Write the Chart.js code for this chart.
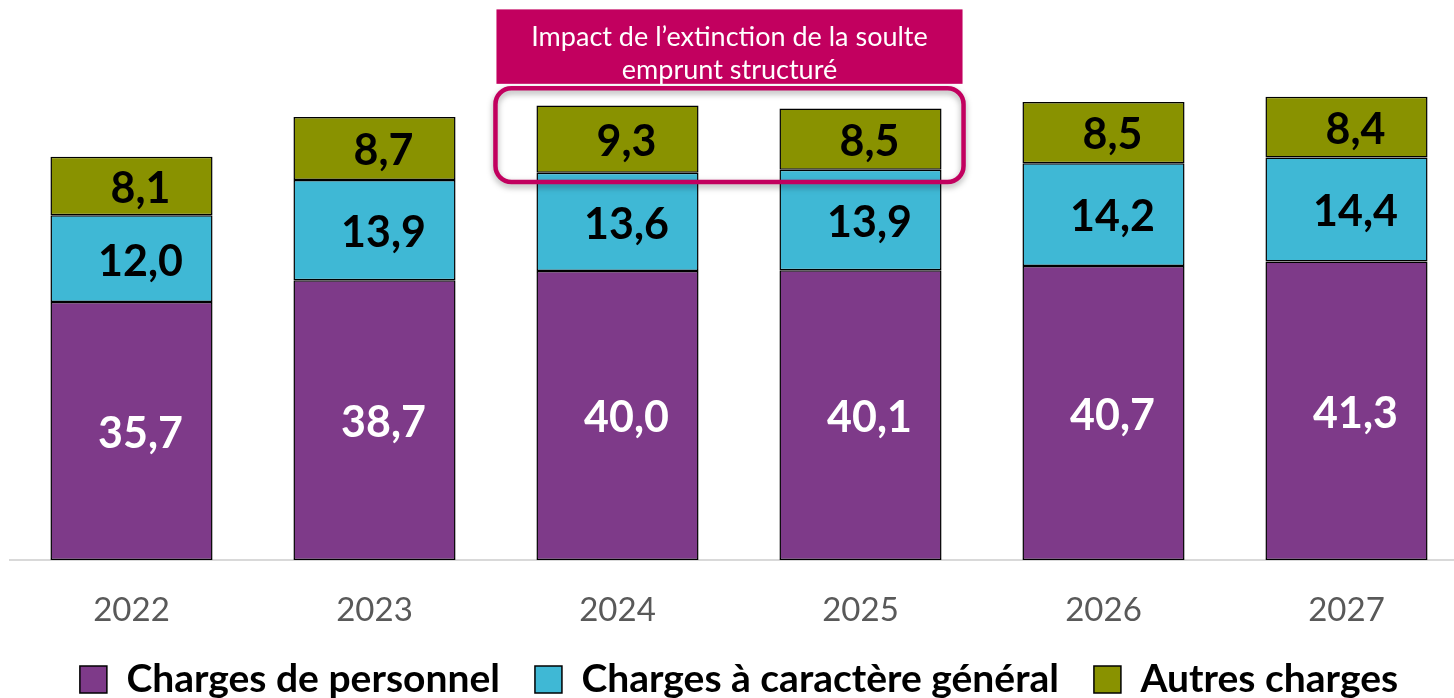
<!DOCTYPE html>
<html>
<head>
<meta charset="utf-8">
<script src="https://cdn.jsdelivr.net/npm/chart.js@4"></script>
<style>
  html, body { margin: 0; padding: 0; background: #fff; overflow: hidden; }
  #wrap { position: relative; width: 1468px; height: 698px; }
</style>
</head>
<body>
<div id="wrap"><canvas id="chart"></canvas></div>
<script>
// Data
const years = ['2022', '2023', '2024', '2025', '2026', '2027']
const personnel = [35.7, 38.7, 40.0, 40.1, 40.7, 41.3]
const generales = [12.0, 13.9, 13.6, 13.9, 14.2, 14.4]
const autres = [8.1, 8.7, 9.3, 8.5, 8.5, 8.4]
const seriesNames = ['Charges de personnel', 'Charges à caractère général', 'Autres charges']
const noteLines = ['Impact de l\u2019extinction de la soulte', 'emprunt structuré']
const noteYears = [2, 3] // 2024 and 2025

const FONT = 'Lato, "Open Sans", sans-serif'
const MAGENTA = '#c2005f'

const fmt = v => v.toFixed(1).replace('.', ',')

// Value labels inside the bar segments
const labelPlugin = {
  id: 'segLabels',
  afterDatasetsDraw(chart) {
    const ctx = chart.ctx
    ctx.save()
    ctx.font = 'bold 43px ' + FONT
    ctx.textAlign = 'center'
    ctx.textBaseline = 'middle'
    chart.data.datasets.forEach((ds, i) => {
      const meta = chart.getDatasetMeta(i)
      meta.data.forEach((bar, j) => {
        const { x, y, base } = bar.getProps(['x', 'y', 'base'], true)
        ctx.fillStyle = i === 0 ? '#ffffff' : '#000000'
        ctx.fillText(fmt(ds.data[j]), x + 9, (y + base) / 2 + 3)
      })
    })
    ctx.restore()
  }
}

// Callout box + rounded frame around 2024/2025 tops
const notePlugin = {
  id: 'note',
  afterDraw(chart) {
    const ctx = chart.ctx
    const top = chart.getDatasetMeta(2)
    const a = top.data[noteYears[0]]
    const b = top.data[noteYears[1]]
    const left = a.x - a.width / 2 - 41
    const right = b.x + b.width / 2 + 22
    const y = chart.scales.y
    ctx.save()
    // frame
    const fTop = y.getPixelForValue(65.3)
    const fBot = y.getPixelForValue(52.3)
    ctx.shadowColor = 'rgba(0,0,0,0.35)'
    ctx.shadowBlur = 6
    ctx.shadowOffsetY = 3
    ctx.strokeStyle = MAGENTA
    ctx.lineWidth = 4.5
    ctx.beginPath()
    ctx.roundRect(left, fTop, right - left, fBot - fTop, 16)
    ctx.stroke()
    ctx.shadowColor = 'transparent'
    // filled title box
    const bTop = y.getPixelForValue(76.2)
    const bBot = y.getPixelForValue(65.9)
    ctx.fillStyle = MAGENTA
    ctx.fillRect(left + 1, bTop, right - left - 2, bBot - bTop)
    ctx.fillStyle = '#ffffff'
    ctx.font = '27px ' + FONT
    ctx.textAlign = 'center'
    ctx.textBaseline = 'middle'
    const cx = (left + right) / 2
    ctx.fillText(noteLines[0], cx, bTop + 28)
    ctx.fillText(noteLines[1], cx, bTop + 61)
    ctx.restore()
  }
}

const common = { borderColor: '#000000', borderWidth: 1.5, borderSkipped: false, barPercentage: 0.667, categoryPercentage: 1 }

new Chart(document.getElementById('chart'), {
  type: 'bar',
  data: {
    labels: years,
    datasets: [
      { label: seriesNames[0], data: personnel, backgroundColor: '#7e3a89', ...common },
      { label: seriesNames[1], data: generales, backgroundColor: '#3fb8d5', ...common },
      { label: seriesNames[2], data: autres, backgroundColor: '#899200', ...common }
    ]
  },
  options: {
    responsive: true,
    maintainAspectRatio: false,
    animation: false,
    layout: { padding: { left: 10, right: 0, top: 0, bottom: 0 } },
    plugins: {
      tooltip: { enabled: false },
      legend: {
        position: 'bottom',
        maxHeight: 73,
        labels: {
          color: '#000000',
          font: { family: FONT, size: 39, weight: 'bold' },
          boxWidth: 27,
          boxHeight: 27,
          padding: 35
        }
      }
    },
    scales: {
      x: {
        stacked: true,
        grid: { display: false, drawTicks: false },
        border: { color: '#d9d9d9', width: 2 },
        ticks: { color: '#595959', font: { family: FONT, size: 33 }, padding: 31 },
        afterFit(scale) { scale.height = 65 }
      },
      y: {
        stacked: true,
        display: false,
        min: 0,
        max: 77.5
      }
    }
  },
  plugins: [labelPlugin, notePlugin]
})
</script>
</body>
</html>
